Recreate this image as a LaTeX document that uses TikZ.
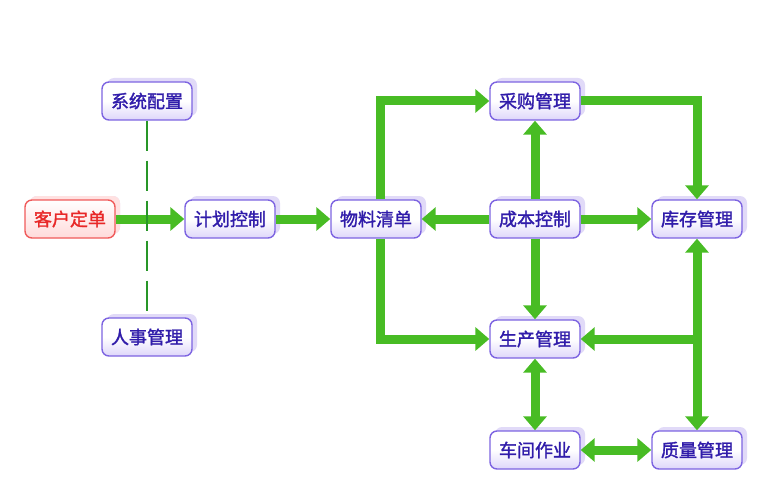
\documentclass[tikz,border=0pt]{standalone}
\usepackage{fontspec}
\newfontfamily\cjk{Noto Sans CJK SC}[FakeBold=1.6]
\usetikzlibrary{arrows.meta,shadows}
\definecolor{boxline}{RGB}{125,100,225}
\definecolor{boxfill}{RGB}{222,214,250}
\definecolor{boxshadow}{RGB}{225,218,248}
\definecolor{boxtext}{RGB}{48,28,170}
\definecolor{redline}{RGB}{240,90,90}
\definecolor{redfill}{RGB}{255,218,218}
\definecolor{redshadow}{RGB}{255,225,225}
\definecolor{redtext}{RGB}{232,40,40}
\definecolor{garr}{RGB}{72,188,36}
\definecolor{gdash}{RGB}{40,150,40}
\tikzset{
  box/.style={draw=boxline, line width=1.4pt, rounded corners=7pt,
    top color=white, bottom color=boxfill, middle color=white,
    minimum width=90pt, minimum height=38pt, inner sep=0pt,
    text=boxtext, font=\cjk\fontsize{18}{18}\selectfont,
    general shadow={fill=boxshadow, shadow xshift=5pt, shadow yshift=4pt}},
  redbox/.style={box, draw=redline, bottom color=redfill, text=redtext,
    general shadow={fill=redshadow, shadow xshift=5pt, shadow yshift=4pt}},
  garrow/.style={draw=garr, line width=9pt, -{Triangle[width=23pt,length=14pt]}},
  gboth/.style={draw=garr, line width=9pt, {Triangle[width=23pt,length=14pt]}-{Triangle[width=23pt,length=14pt]}},
  gdashed/.style={draw=gdash, line width=2.5pt, dash pattern=on 30pt off 10pt}
}
\begin{document}
\begin{tikzpicture}[x=1pt,y=-1pt]
\useasboundingbox (0,0) rectangle (765,500);
\node[box] (sys) at (147,101) {系统配置};
\node[box] (hr) at (147,337) {人事管理};
\node[redbox] (cust) at (70,219) {客户定单};
\node[box] (plan) at (230,219) {计划控制};
\node[box] (bom) at (376,219) {物料清单};
\node[box] (pur) at (535,101) {采购管理};
\node[box] (cost) at (535,219) {成本控制};
\node[box] (inv) at (697,219) {库存管理};
\node[box] (prod) at (535,339) {生产管理};
\node[box] (shop) at (535,450) {车间作业};
\node[box] (qual) at (697,450) {质量管理};

\draw[garrow] (cust.east) -- (plan.west);
\draw[gdashed] (sys.south) -- (hr.north);
\draw[garrow] (plan.east) -- (bom.west);
\draw[garrow] ([xshift=4pt]bom.north) |- (pur.west);
\draw[garrow] ([xshift=4pt]bom.south) |- (prod.west);
\draw[garrow] (cost.west) -- (bom.east);
\draw[garrow] (cost.east) -- (inv.west);
\draw[garrow] (cost.north) -- (pur.south);
\draw[garrow] (cost.south) -- (prod.north);
\draw[garrow] (pur.east) -| (inv.north);
\draw[gboth] (inv.south) -- (qual.north);
\draw[garrow] (inv.south |- prod.east) -- (prod.east);
\draw[gboth] (prod.south) -- (shop.north);
\draw[gboth] (shop.east) -- (qual.west);
\end{tikzpicture}
\end{document}
